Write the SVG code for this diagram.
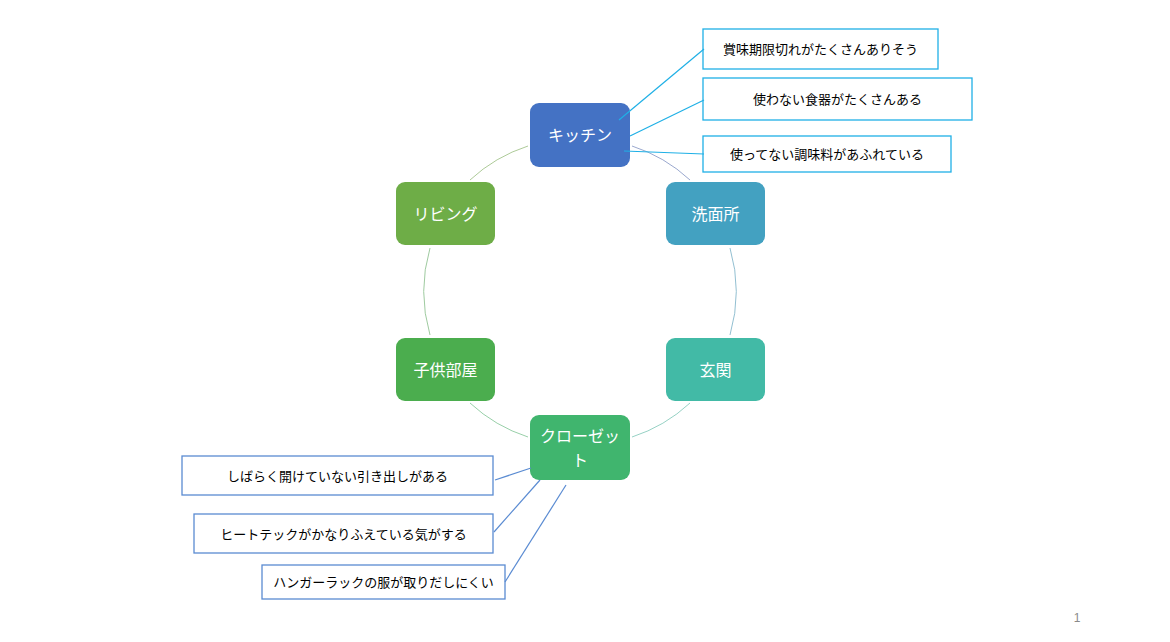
<svg xmlns="http://www.w3.org/2000/svg" width="1170" height="642" viewBox="0 0 1170 642">
<style>
.node text{font-family:"Noto Sans CJK JP","Noto Sans CJK SC",sans-serif;font-size:16px;fill:#fff;text-anchor:middle}
.box rect{fill:#fff;stroke-width:1.3}
.box text{font-family:"Noto Sans CJK JP","Noto Sans CJK SC",sans-serif;font-size:13px;fill:#000;text-anchor:middle}
.top rect{stroke:#1FB0E6}
.bot rect{stroke:#5A8BD2}
.arc{fill:none;stroke-width:0.9}
</style>
<rect width="1170" height="642" fill="#fff"/>
<g id="kitchen" class="node"><rect x="530" y="103" width="100" height="64" rx="9" fill="#4472C4"/><text x="580" y="141">キッチン</text></g>
<g id="senmenjo" class="node"><rect x="666" y="182" width="99" height="63" rx="9" fill="#43A1C1"/><text x="715.5" y="220">洗面所</text></g>
<g id="genkan" class="node"><rect x="666" y="338" width="99" height="63" rx="9" fill="#42BAA6"/><text x="715.5" y="376">玄関</text></g>
<g id="closet" class="node"><rect x="530" y="415" width="100" height="65" rx="9" fill="#40B56E"/><text x="580" y="442">クローゼッ</text><text x="580" y="466">ト</text></g>
<g id="kodomobeya" class="node"><rect x="396" y="338" width="99" height="63" rx="9" fill="#4BAD4E"/><text x="445.5" y="376">子供部屋</text></g>
<g id="living" class="node"><rect x="396" y="182" width="99" height="63" rx="9" fill="#6EAD47"/><text x="445.5" y="220">リビング</text></g>
<g id="note1" class="box top"><rect x="703" y="29" width="235" height="40"/><text x="820.5" y="54">賞味期限切れがたくさんありそう</text></g>
<g id="note2" class="box top"><rect x="703" y="78" width="269" height="42"/><text x="837.5" y="104">使わない食器がたくさんある</text></g>
<g id="note3" class="box top"><rect x="703" y="136" width="248" height="36"/><text x="827" y="159">使ってない調味料があふれている</text></g>
<g id="note4" class="box bot"><rect x="182" y="456" width="311" height="39"/><text x="337.5" y="480.5">しばらく開けていない引き出しがある</text></g>
<g id="note5" class="box bot"><rect x="194" y="514" width="299" height="39"/><text x="343.5" y="538.5">ヒートテックがかなりふえている気がする</text></g>
<g id="note6" class="box bot"><rect x="262" y="565" width="243" height="34"/><text x="383.5" y="587">ハンガーラックの服が取りだしにくい</text></g>
<g id="connectors">
<path class="arc" stroke="#8E9EC8" d="M632,146 A156,156 0 0 1 690,180"/>
<path class="arc" stroke="#86B8CC" d="M730,248 A156,156 0 0 1 730,335"/>
<path class="arc" stroke="#8ACCBD" d="M690,403 A156,156 0 0 1 632,437"/>
<path class="arc" stroke="#8CC99E" d="M528,437 A156,156 0 0 1 470,403"/>
<path class="arc" stroke="#93C494" d="M430,335 A156,156 0 0 1 430,248"/>
<path class="arc" stroke="#A4C48C" d="M470,180 A156,156 0 0 1 528,146"/>
<g stroke="#1FB0E6" stroke-width="1.2">
<line x1="619" y1="120" x2="704" y2="49"/>
<line x1="630" y1="136" x2="704" y2="100"/>
<line x1="624" y1="151" x2="704" y2="154"/>
</g>
<g stroke="#5A8BD2" stroke-width="1.2">
<line x1="495" y1="480" x2="531" y2="468"/>
<line x1="494" y1="532" x2="540" y2="480"/>
<line x1="505" y1="582" x2="566" y2="485"/>
</g>
</g>
<text x="1077" y="622" font-family="Liberation Sans, sans-serif" font-size="12" fill="#8a8a8a" text-anchor="middle">1</text>
</svg>
